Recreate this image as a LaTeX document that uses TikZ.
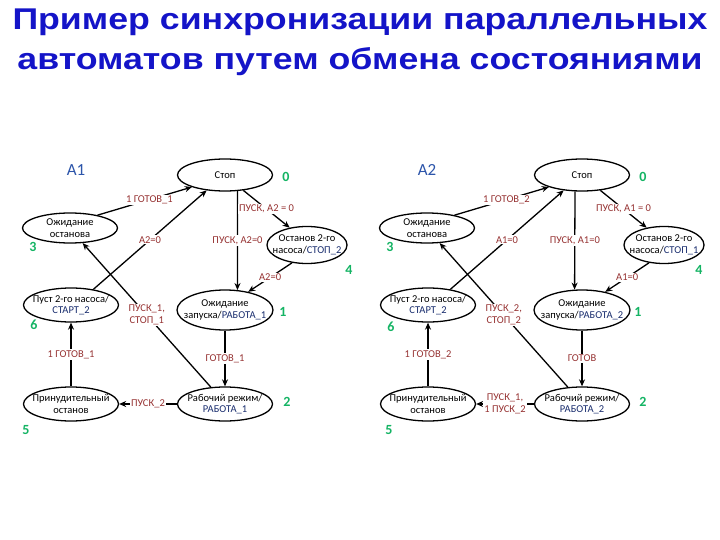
\documentclass[tikz,border=0pt]{standalone}
\usepackage{fontspec}
\setmainfont{Carlito}
\newfontfamily\titlefont{Liberation Sans}
\usetikzlibrary{shapes,arrows.meta,positioning,calc}
\definecolor{titleblue}{RGB}{20,20,200}
\definecolor{autblue}{RGB}{45,85,170}
\definecolor{numgreen}{RGB}{20,180,100}
\definecolor{lblred}{RGB}{150,50,50}
\definecolor{navy}{RGB}{25,45,110}
\begin{document}
\begin{tikzpicture}[x=1pt,y=-1pt,>={Stealth[length=7pt,width=6pt]},line width=1.3pt,
		st/.style={ellipse,draw,inner xsep=-14pt,inner ysep=-3pt,minimum width=95pt,minimum height=32pt,
			align=center,font=\fontsize{10.5}{11.5}\selectfont},
		lbl/.style={fill=white,inner sep=1pt,text=lblred,align=center,
			font=\fontsize{10.5}{12}\selectfont},
		num/.style={text=numgreen,font=\bfseries\fontsize{14}{14}\selectfont},
		aut/.style={text=autblue,font=\fontsize{17}{17}\selectfont}]
		\fill[white] (0,0) rectangle (720,540);
		\useasboundingbox (0,0) rectangle (720,540);
		\node[text=titleblue,align=center,font=\titlefont\bfseries\fontsize{30}{40}\selectfont] (title) at (360,42)
		{\scalebox{1.19}[1]{Пример синхронизации параллельных}\\
			\scalebox{1.19}[1]{автоматов путем обмена состояниями}};
		% A1
		\begin{scope}
		\node[aut] (a1) at (76,170) {A1};
		\node[st] (stop1) at (225,175) {Стоп};
		\node[st,minimum height=30pt] (wst1) at (70,228) {Ожидание\\останова};
		\node[st,minimum width=80pt,minimum height=37pt] (off1) at (307,245) {Останов 2-го\\насоса/\textcolor{navy}{СТОП\_2}};
		\node[st,minimum height=34pt] (pst1) at (71,305) {Пуст 2-го насоса/\\\textcolor{navy}{СТАРТ\_2}};
		\node[st,minimum width=96pt,minimum height=40pt] (wrun1) at (225,310) {Ожидание\\запуска/\textcolor{navy}{РАБОТА\_1}};
		\node[st,minimum height=34pt] (frc1) at (71,404) {Принудительный\\останов};
		\node[st,minimum height=34pt] (run1) at (225,404) {Рабочий режим/\\\textcolor{navy}{РАБОТА\_1}};
		\node[num] (n10) at (286,177) {0};
		\node[num] (n13) at (33,247) {3};
		\node[num] (n14) at (349,270) {4};
		\node[num] (n11) at (283,312) {1};
		\node[num] (n16) at (34,325) {6};
		\node[num] (n12) at (287,402) {2};
		\node[num] (n15) at (26,430) {5};
		\path[->]
		(wst1.25) edge node[lbl,pos=.55] {1 ГОТОВ\_1} (stop1.200)
		(pst1.35) edge node[lbl] {А2=0} (stop1.220)
		(run1.130) edge node[lbl] {ПУСК\_1,\\СТОП\_1} (wst1.310)
		(stop1.-52) edge node[lbl] {ПУСК, А2=0} (wrun1.58)
		(stop1.-40) edge node[lbl] {ПУСК, А2 = 0} (off1.135)
		(off1.-130) edge node[lbl] {А2=0} (wrun1.38)
		(wrun1) edge node[lbl] {ГОТОВ\_1} (run1)
		(run1) edge node[lbl] {ПУСК\_2} (frc1)
		(frc1) edge node[lbl] {1 ГОТОВ\_1} (pst1);
		\end{scope}
		% A2
		\begin{scope}[xshift=357pt]
		\node[aut] (a2) at (70,170) {A2};
		\node[st] (stop2) at (225,175) {Стоп};
		\node[st,minimum height=30pt] (wst2) at (70,228) {Ожидание\\останова};
		\node[st,minimum width=80pt,minimum height=37pt] (off2) at (307,245) {Останов 2-го\\насоса/\textcolor{navy}{СТОП\_1}};
		\node[st,minimum height=34pt] (pst2) at (71,305) {Пуст 2-го насоса/\\\textcolor{navy}{СТАРТ\_2}};
		\node[st,minimum width=96pt,minimum height=40pt] (wrun2) at (225,310) {Ожидание\\запуска/\textcolor{navy}{РАБОТА\_2}};
		\node[st,minimum height=34pt] (frc2) at (71,404) {Принудительный\\останов};
		\node[st,minimum height=34pt] (run2) at (225,404) {Рабочий режим/\\\textcolor{navy}{РАБОТА\_2}};
		\node[num] (n20) at (286,177) {0};
		\node[num] (n23) at (33,247) {3};
		\node[num] (n24) at (342,270) {4};
		\node[num] (n21) at (281,312) {1};
		\node[num] (n26) at (34,327) {6};
		\node[num] (n22) at (286,402) {2};
		\node[num] (n25) at (32,430) {5};
		\path[->]
		(wst2.25) edge node[lbl,pos=.55] {1 ГОТОВ\_2} (stop2.200)
		(pst2.35) edge node[lbl] {А1=0} (stop2.220)
		(run2.130) edge node[lbl] {ПУСК\_2,\\СТОП\_2} (wst2.310)
		(stop2.-113) edge node[lbl] {ПУСК, А1=0} (wrun2.110)
		(stop2.-40) edge node[lbl] {ПУСК, А1 = 0} (off2.135)
		(off2.-130) edge node[lbl] {А1=0} (wrun2.38)
		(wrun2) edge node[lbl] {ГОТОВ} (run2)
		(run2) edge node[lbl] {ПУСК\_1,\\1 ПУСК\_2} (frc2)
		(frc2) edge node[lbl] {1 ГОТОВ\_2} (pst2);
		\end{scope}
\end{tikzpicture}
\end{document}
